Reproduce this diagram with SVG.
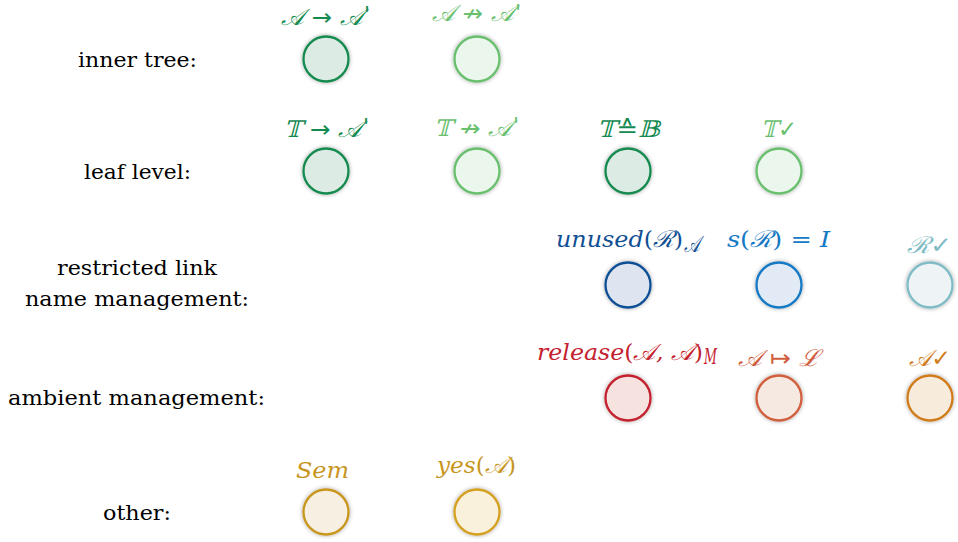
<svg xmlns="http://www.w3.org/2000/svg" width="958" height="542" viewBox="0 0 958 542">
<defs>
<filter id="sh" x="-40%" y="-40%" width="180%" height="180%">
<feDropShadow dx="0" dy="0" stdDeviation="2.2" flood-color="#000" flood-opacity="0.35"/>
</filter>
<style>
.lbl{font-family:"DejaVu Serif","Liberation Serif",serif;font-size:20px;fill:#000;text-anchor:middle}
.m{font-family:"DejaVu Serif",serif;font-size:23px;font-style:italic}
.s{font-family:"DejaVu Sans",sans-serif;font-style:normal}
.u{font-family:"DejaVu Serif",serif;font-style:normal}
.p{font-family:"DejaVu Sans",sans-serif;font-size:22px;font-style:italic}
.n{stroke-width:2.3;filter:url(#sh)}
.dg{stroke:#138a4f;fill:#dcece4}.dgt{fill:#138a4f}
.lg{stroke:#68c06e;fill:#ebf6ec}.lgt{fill:#68c06e}
.db{stroke:#114f94;fill:#dfe5f0}.dbt{fill:#114f94}
.bl{stroke:#1479c4;fill:#e2eaf6}.blt{fill:#1479c4}
.tl{stroke:#80bcc6;fill:#eef4f6}.tlt{fill:#80bcc6}
.rd{stroke:#c4202e;fill:#f6e3df}.rdt{fill:#c4202e}
.or{stroke:#d05e3e;fill:#f6e9e1}.ort{fill:#d05e3e}
.og{stroke:#d07c1e;fill:#f7ebdc}.ogt{fill:#d07c1e}
.gd{stroke:#c8961e;fill:#f6efe2}.gdt{fill:#c8961e}
.gd2{stroke:#d4a020;fill:#faf1dc}
</style>
</defs>
<g id="rowlabels">
<text class="lbl" x="137.5" y="67" textLength="119" lengthAdjust="spacingAndGlyphs">inner tree:</text>
<text class="lbl" x="137.5" y="179" textLength="107" lengthAdjust="spacingAndGlyphs">leaf level:</text>
<text class="lbl" x="137" y="275" textLength="160" lengthAdjust="spacingAndGlyphs">restricted link</text>
<text class="lbl" x="137" y="306" textLength="224" lengthAdjust="spacingAndGlyphs">name management:</text>
<text class="lbl" x="136.5" y="405" textLength="257" lengthAdjust="spacingAndGlyphs">ambient management:</text>
<text class="lbl" x="137" y="520" textLength="68" lengthAdjust="spacingAndGlyphs">other:</text>
</g>
<g id="n1"><circle class="n dg" cx="326" cy="59" r="22.5"/><text class="m dgt" x="281" y="25" textLength="82" lengthAdjust="spacingAndGlyphs">𝒜 <tspan class="s">→</tspan> 𝒜</text><text class="p dgt" x="364" y="22">'</text></g>
<g id="n2"><circle class="n lg" cx="477" cy="59" r="22.5"/><text class="m lgt" x="432" y="21" textLength="82" lengthAdjust="spacingAndGlyphs">𝒜 <tspan class="s">↛</tspan> 𝒜</text><text class="p lgt" x="515" y="20">'</text></g>
<g id="n3"><circle class="n dg" cx="326" cy="171" r="22.5"/><text class="m dgt" x="284" y="137" textLength="78" lengthAdjust="spacingAndGlyphs">𝕋 <tspan class="s">→</tspan> 𝒜</text><text class="p dgt" x="363" y="134">'</text></g>
<g id="n4"><circle class="n lg" cx="477" cy="171" r="22.5"/><text class="m lgt" x="434" y="136" textLength="78" lengthAdjust="spacingAndGlyphs">𝕋 <tspan class="s">↛</tspan> 𝒜</text><text class="p lgt" x="513" y="133">'</text></g>
<g id="n5"><circle class="n dg" cx="628" cy="171" r="22.5"/><text class="m dgt" x="597" y="137" textLength="63" lengthAdjust="spacingAndGlyphs">𝕋<tspan class="s">≙</tspan>𝔹</text></g>
<g id="n6"><circle class="n lg" cx="779" cy="171" r="22.5"/><text class="m lgt" x="761" y="137" textLength="36" lengthAdjust="spacingAndGlyphs">𝕋<tspan class="s">✓</tspan></text></g>
<g id="n7"><circle class="n db" cx="628" cy="285" r="22.5"/><text class="m dbt" x="556" y="247" textLength="127" lengthAdjust="spacingAndGlyphs">unused<tspan class="u">(</tspan>ℛ<tspan class="u">)</tspan></text><text class="m dbt" x="684" y="252" font-size="15" textLength="16" lengthAdjust="spacingAndGlyphs">𝒜</text></g>
<g id="n8"><circle class="n bl" cx="779" cy="285" r="22.5"/><text class="m blt" x="727" y="247" textLength="103" lengthAdjust="spacingAndGlyphs">s<tspan class="u">(</tspan>ℛ<tspan class="u">) = </tspan>I</text></g>
<g id="n9"><circle class="n tl" cx="930" cy="285" r="22.5"/><text class="m tlt" x="907" y="253" textLength="45" lengthAdjust="spacingAndGlyphs">ℛ<tspan class="s">✓</tspan></text></g>
<g id="n10"><circle class="n rd" cx="628" cy="398" r="22.5"/><text class="m rdt" x="537" y="360" textLength="166" lengthAdjust="spacingAndGlyphs">release<tspan class="u">(</tspan>𝒜, 𝒜<tspan class="u">)</tspan></text><text class="m rdt" x="704" y="364" font-size="15" textLength="13" lengthAdjust="spacingAndGlyphs">M</text></g>
<g id="n11"><circle class="n or" cx="779" cy="398" r="22.5"/><text class="m ort" x="738" y="366" textLength="82" lengthAdjust="spacingAndGlyphs">𝒜 <tspan class="s">↦</tspan> ℒ</text></g>
<g id="n12"><circle class="n og" cx="930" cy="398" r="22.5"/><text class="m ogt" x="909" y="366" textLength="42" lengthAdjust="spacingAndGlyphs">𝒜<tspan class="s">✓</tspan></text></g>
<g id="n13"><circle class="n gd" cx="326" cy="512" r="22.5"/><text class="m gdt" x="296" y="478" textLength="53" lengthAdjust="spacingAndGlyphs">Sem</text></g>
<g id="n14"><circle class="n gd2" cx="477" cy="512" r="22.5"/><text class="m gdt" x="437" y="473" textLength="79" lengthAdjust="spacingAndGlyphs">yes<tspan class="u">(</tspan>𝒜<tspan class="u">)</tspan></text></g>
<g id="connectors"/>
</svg>
